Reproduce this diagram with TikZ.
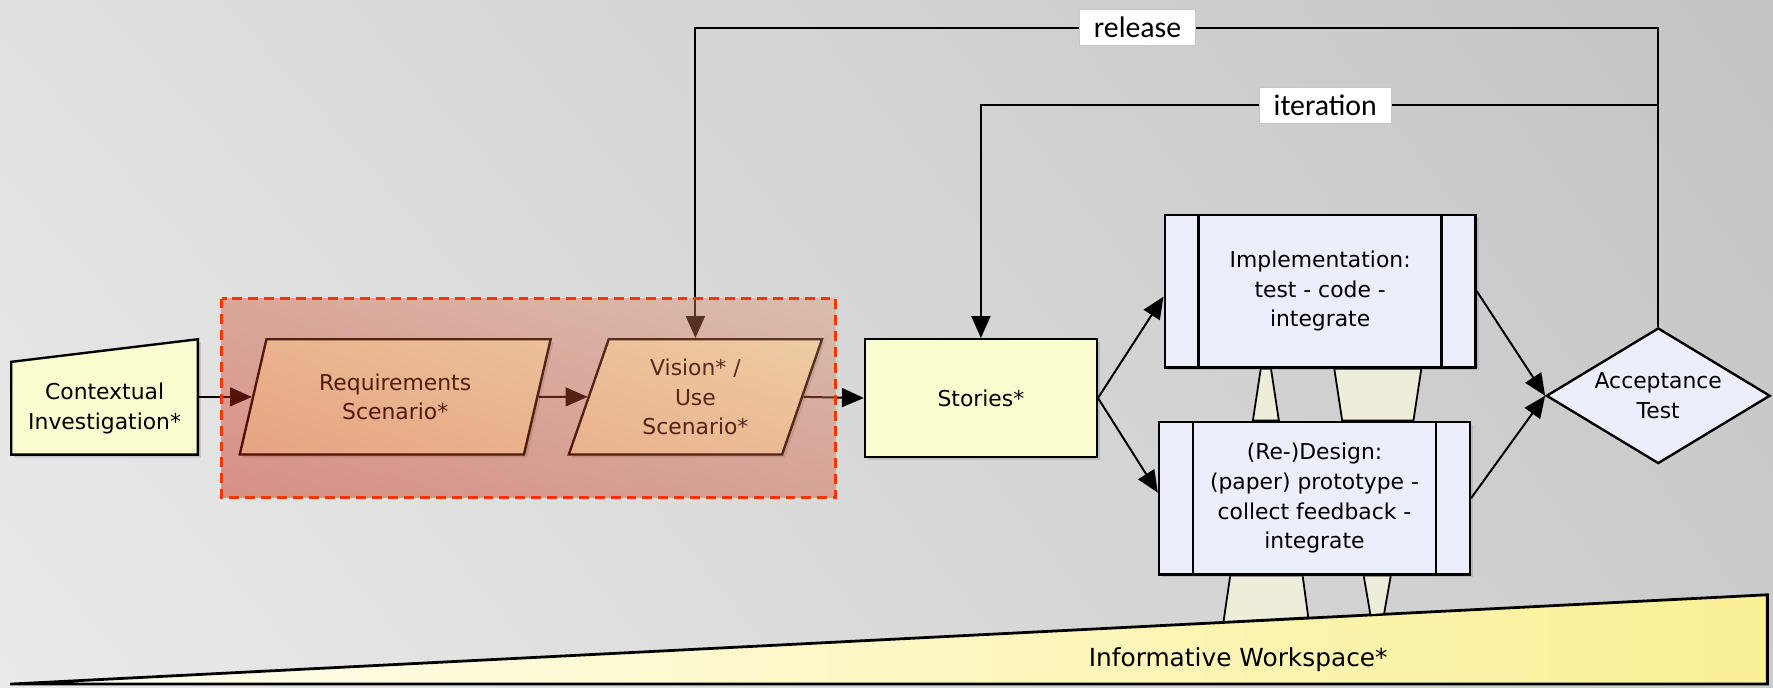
\documentclass[tikz,border=0pt]{standalone}
\usepackage{fontspec}
\setmainfont{DejaVu Sans}
\newfontfamily\tagfont{Carlito}
\usetikzlibrary{arrows.meta,calc,shadings,shadows,shapes.geometric}
\definecolor{bgul}{RGB}{224,224,224}
\definecolor{bgll}{RGB}{234,234,234}
\definecolor{bgur}{RGB}{196,196,196}
\definecolor{bglr}{RGB}{204,204,204}
\definecolor{boxyellow}{RGB}{251,251,208}
\definecolor{boxlilac}{RGB}{236,238,252}
\definecolor{pillar}{RGB}{238,237,218}
\definecolor{wsleft}{RGB}{255,254,242}
\definecolor{wsright}{RGB}{250,240,150}
\definecolor{dashred}{RGB}{255,51,0}
\definecolor{ovdark}{RGB}{196,20,0}
\definecolor{ovmid}{RGB}{210,80,50}
\definecolor{ovlight}{RGB}{222,150,110}
\tikzset{%
	boxshadow/.style = {drop shadow={opacity=0.3, shadow xshift=1.5pt, shadow yshift=-1.5pt}},
	yellowbox/.style = {draw, rectangle, fill=boxyellow, line width=1.2pt, minimum height=2.08cm, align=center, boxshadow},
	scenario/.style  = {draw, trapezium, trapezium left angle=66, trapezium right angle=114, trapezium stretches body,
	                    fill=boxyellow, line width=1.2pt, minimum height=2.04cm, align=center, boxshadow},
	procbox/.style   = {draw, rectangle, fill=boxlilac, line width=1.2pt, minimum width=5.5cm, minimum height=2.7cm, align=center, boxshadow,
	                    path picture={\draw[line width=1.2pt]
	                      ([xshift=0.6cm]path picture bounding box.north west) -- ([xshift=0.6cm]path picture bounding box.south west)
	                      ([xshift=-0.6cm]path picture bounding box.north east) -- ([xshift=-0.6cm]path picture bounding box.south east);}},
	decision/.style  = {draw, diamond, fill=boxlilac, line width=1.2pt, aspect=1.65, inner sep=0pt, minimum width=3.96cm, minimum height=2.4cm, align=center},
	pillarbox/.style = {draw, fill=pillar, line width=0.9pt},
	tag/.style       = {draw=gray!45, fill=white, font=\fontsize{15}{15}\tagfont, inner xsep=0.26cm, minimum height=0.64cm},
	arrow/.style     = {line width=1pt, -{Triangle[length=11pt,width=9.5pt]}},
}

\begin{document}
\begin{tikzpicture}[x=0.02cm,y=-0.02cm,font=\fontsize{11}{15}\selectfont]

	\shade[upper left=bgul, lower left=bgll, upper right=bgur, lower right=bglr] (0,0) rectangle (1568,608);  % backdrop
	\useasboundingbox (0,0) rectangle (1568,608);

	% workspace wedge and the pillars standing on it
	\shadedraw[left color=wsleft, right color=wsright, line width=1.4pt] (9,605) -- (1563,526) -- (1563,605) -- cycle;
	\node[font=\fontsize{12.5}{15}\selectfont] (ws) at (1095,583) {Informative Workspace*};
	\draw[pillarbox] (1115,326) -- (1124,326) -- (1131,372) -- (1108,372) -- cycle;
	\draw[pillarbox] (1180,326) -- (1257,326) -- (1250,372) -- (1187,372) -- cycle;
	\draw[pillarbox] (1088,509) -- (1152,509) -- (1157,546) -- (1082,550) -- cycle;
	\draw[pillarbox] (1206,509) -- (1230,509) -- (1224,543) -- (1212,544) -- cycle;

	\filldraw[fill=boxyellow, line width=1.2pt, boxshadow] (10,320) -- (175,300) -- (175,402) -- (10,402) -- cycle;  % manual input
	\node[minimum width=3.3cm, minimum height=1.64cm, align=center] (ctx) at (92.5,361) {Contextual\\Investigation*};

	\node[scenario, minimum width=5.5cm] (req) at (349.5,351) {Requirements\\Scenario*};
	\node[scenario, minimum width=4.48cm] (vis) at (615,351) {Vision* /\\Use\\Scenario*};
	\node[yellowbox, minimum width=4.1cm] (sto) at (867.5,352) {Stories*};
	\node[procbox] (impl) at (1167.5,257.5) {Implementation:\\test - code -\\integrate};
	\node[procbox] (dsg) at (1162.5,440.5) {(Re-)Design:\\(paper) prototype -\\collect feedback -\\integrate};
	\node[decision] (acc) at (1466.5,350) {Acceptance\\Test};

	\draw[arrow] (ctx.east |- req.west) -- (req.west);
	\draw[arrow] (req.east) -- (vis.west);
	\draw[arrow] (vis.east) -- (sto.west);
	\draw[arrow] (sto.east) -- (impl.182);
	\draw[arrow] (sto.east) -- (dsg.178);
	\draw[arrow] (impl.east) -- (acc.west);
	\draw[arrow] (dsg.east) -- (acc.west);

	% feedback loops
	\coordinate (relline) at (0,25);
	\coordinate (itline) at (0,93);
	\draw[arrow] (acc.north) |- (vis.north |- relline) -- (vis.north);
	\draw[arrow] (acc.north |- itline) -| (sto.north);
	\node[tag] (rel) at (1006,24.5) {release};
	\node[tag] (itr) at (1172,93.5) {iteration};

	% scenario group, laid over the boxes
	\shade[upper left=ovmid, lower left=ovdark, upper right=ovlight, lower right=ovmid, fill opacity=0.4] (196,264) rectangle (739,440);
	\draw[dashred, line width=1.3pt, dash pattern=on 5pt off 3pt] (196,264) rectangle (739,440);

\end{tikzpicture}
\end{document}
